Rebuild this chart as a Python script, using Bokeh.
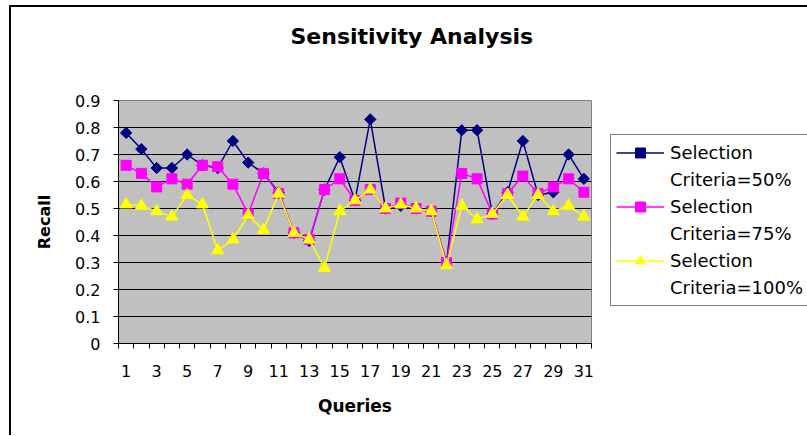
import math
from bokeh.plotting import figure
from bokeh.models import FixedTicker, Legend, LegendItem, Range1d, Title
from bokeh.embed import file_html
from bokeh.resources import INLINE

# ---- data ----
queries = list(range(1, 32))
sel50 = [0.78, 0.72, 0.65, 0.65, 0.70, 0.66, 0.65, 0.75, 0.67, 0.63,
         0.56, 0.41, 0.38, 0.57, 0.69, 0.53, 0.83, 0.50, 0.51, 0.50,
         0.49, 0.30, 0.79, 0.79, 0.48, 0.56, 0.75, 0.55, 0.56, 0.70, 0.61]
sel75 = [0.66, 0.63, 0.58, 0.61, 0.59, 0.66, 0.655, 0.59, 0.48, 0.63,
         0.555, 0.41, 0.385, 0.57, 0.61, 0.53, 0.57, 0.50, 0.52, 0.50,
         0.49, 0.30, 0.63, 0.61, 0.48, 0.555, 0.62, 0.555, 0.58, 0.61, 0.56]
sel100 = [0.515, 0.51, 0.49, 0.47, 0.55, 0.515, 0.345, 0.385, 0.475, 0.42,
          0.555, 0.41, 0.385, 0.28, 0.49, 0.53, 0.57, 0.50, 0.515, 0.50,
          0.49, 0.29, 0.51, 0.46, 0.48, 0.55, 0.47, 0.55, 0.49, 0.51, 0.47]
series_line1 = ["Selection", "Selection", "Selection"]
series_line2 = ["Criteria=50%", "Criteria=75%", "Criteria=100%"]
y_ticks = [0, 0.1, 0.2, 0.3, 0.4, 0.5, 0.6, 0.7, 0.8, 0.9]
y_tick_labels = ["0", "0.1", "0.2", "0.3", "0.4", "0.5", "0.6", "0.7", "0.8", "0.9"]
x_label_ticks = [1, 3, 5, 7, 9, 11, 13, 15, 17, 19, 21, 23, 25, 27, 29, 31]
title_text = "Sensitivity Analysis"
x_title = "Queries"
y_title = "Recall"

FONT = "DejaVu Sans"

p = figure(frame_width=473, frame_height=243,
           min_border_left=107, min_border_right=216,
           min_border_top=92, min_border_bottom=92,
           x_range=Range1d(0.5, 31.5), y_range=Range1d(0, 0.9),
           output_backend="svg", toolbar_location=None)
p.styles = {"border-left": "2px solid black", "border-top": "2px solid black",
            "margin-left": "9px", "margin-top": "5px"}
p.background_fill_color = "#C0C0C0"
p.border_fill_color = "white"
p.outline_line_color = "#808080"
p.outline_line_width = 1

# title (outermost) with an empty spacer title between it and the frame
p.title = Title(text=title_text, align="left", offset=172, standoff=28,
                text_font=FONT, text_font_style="bold", text_font_size="22px",
                text_color="black")
p.add_layout(Title(text=" ", standoff=11, text_font=FONT, text_font_style="bold",
                   text_font_size="22px"), "above")

# grid
p.xgrid.visible = False
p.ygrid.ticker = FixedTicker(ticks=y_ticks)
p.ygrid.grid_line_color = "black"
p.ygrid.grid_line_width = 1

# y axis
p.yaxis.ticker = FixedTicker(ticks=y_ticks)
p.yaxis.major_label_overrides = {t: s for t, s in zip(y_ticks, y_tick_labels)}
p.yaxis.major_tick_out = 5
p.yaxis.major_tick_in = 0
p.yaxis.minor_tick_out = 0
p.yaxis.minor_tick_in = 0
p.yaxis.major_label_standoff = 13
p.yaxis.major_label_text_font = FONT
p.yaxis.major_label_text_font_size = "16px"
p.yaxis.major_label_text_color = "black"
p.yaxis.axis_line_color = "black"
p.yaxis.major_tick_line_color = "black"
p.yaxis.axis_label = y_title
p.yaxis.axis_label_text_font = FONT
p.yaxis.axis_label_text_font_style = "bold"
p.yaxis.axis_label_text_font_size = "16px"
p.yaxis.axis_label_text_color = "black"
p.yaxis.axis_label_standoff = 18

# x axis
boundaries = [q - 0.5 for q in queries] + [queries[-1] + 0.5]
p.xaxis.ticker = FixedTicker(ticks=x_label_ticks, minor_ticks=boundaries)
p.xaxis.major_tick_out = 0
p.xaxis.major_tick_in = 0
p.xaxis.minor_tick_out = 5
p.xaxis.minor_tick_in = 0
p.xaxis.minor_tick_line_color = "black"
p.xaxis.axis_line_color = "black"
p.xaxis.major_label_standoff = 16
p.xaxis.major_label_text_font = FONT
p.xaxis.major_label_text_font_size = "16px"
p.xaxis.major_label_text_color = "black"
p.xaxis.axis_label = x_title
p.xaxis.axis_label_text_font = FONT
p.xaxis.axis_label_text_font_style = "bold"
p.xaxis.axis_label_text_font_size = "17px"
p.xaxis.axis_label_text_color = "black"
p.xaxis.axis_label_standoff = 16

# series
specs = [
    (sel50, "#000080", dict(marker="square", size=8, angle=math.pi / 4)),
    (sel75, "#FF00FF", dict(marker="square", size=10)),
    (sel100, "#FFFF00", dict(marker="triangle", size=12)),
]
items = []
for (vals, color, mk), l1, l2 in zip(specs, series_line1, series_line2):
    lr = p.line(queries, vals, line_color=color, line_width=1.5)
    sr = p.scatter(queries, vals, fill_color=color, line_color=color, **mk)
    blank = p.line(queries, vals, line_alpha=0)  # carries the second legend line
    items.append(LegendItem(label=l1, renderers=[lr, sr]))
    items.append(LegendItem(label=l2, renderers=[blank]))

legend = Legend(items=items, location=(19, 37),
                border_line_color="black", border_line_width=1,
                background_fill_color="white", background_fill_alpha=1,
                label_text_font=FONT, label_text_font_size="18px",
                label_text_color="black",
                glyph_width=48, glyph_height=25, label_height=25,
                label_standoff=6, padding=5, spacing=2, margin=0)
p.add_layout(legend, "right")

open("out.html", "w").write(file_html(p, INLINE))
